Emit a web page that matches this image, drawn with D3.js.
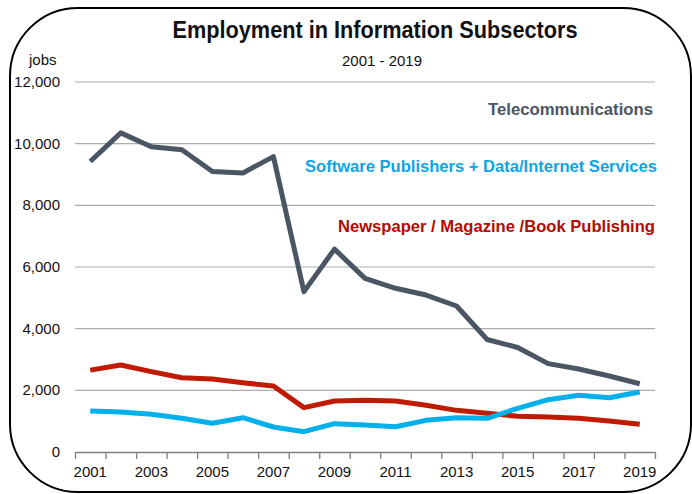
<!DOCTYPE html>
<html><head><meta charset="utf-8">
<script src="https://cdn.jsdelivr.net/npm/d3@7"></script>
<style>html,body{margin:0;padding:0;background:#fff;}svg{display:block;font-family:"Liberation Sans",Arial,sans-serif;}</style>
</head><body>
<svg id="c" width="692" height="494"></svg>
<script>
const years = d3.range(2001, 2020);
const telecom = [9420, 10350, 9900, 9800, 9100, 9050, 9580, 5200, 6580, 5630, 5310, 5090, 4735, 3650, 3390, 2865, 2690, 2465, 2215];
const software = [1330, 1297, 1222, 1092, 930, 1113, 811, 659, 919, 876, 820, 1027, 1113, 1092, 1416, 1697, 1838, 1762, 1946];
const newspaper = [2655, 2820, 2605, 2410, 2368, 2248, 2140, 1438, 1654, 1676, 1654, 1513, 1351, 1254, 1157, 1135, 1092, 1005, 897];
const yTicks = [0, 2000, 4000, 6000, 8000, 10000, 12000];
const xLabels = [2001, 2003, 2005, 2007, 2009, 2011, 2013, 2015, 2017, 2019];
const seriesNames = ["Telecommunications", "Software Publishers + Data/Internet Services", "Newspaper / Magazine /Book Publishing"];

const svg = d3.select("#c");
const L = 75, R = 655, T = 82, B = 452;

// border
svg.append("rect").attr("x", 10).attr("y", 8).attr("width", 681).attr("height", 484)
  .attr("rx", 68).attr("ry", 68).attr("fill", "none").attr("stroke", "#000").attr("stroke-width", 2);

const x = d3.scaleBand().domain(years).range([L, R]).paddingInner(0).paddingOuter(0);
const xb = d3.scaleLinear().domain([0, years.length]).range([L, R]);
const y = d3.scaleLinear().domain([0, 12000]).range([B, T]);

// grid
svg.append("g").selectAll("line").data(yTicks.filter(d => d > 0)).join("line")
  .attr("x1", L).attr("x2", R).attr("y1", d => y(d)).attr("y2", d => y(d))
  .attr("stroke", "#ababab").attr("stroke-width", 1.2);

// y labels
svg.append("g").selectAll("text").data(yTicks).join("text")
  .attr("x", 60).attr("y", d => y(d) + 5).attr("text-anchor", "end")
  .attr("font-size", 15).attr("fill", "#111").text(d3.format(",")).each(function(){
    const t = d3.select(this); t.attr("textLength", t.text().length > 1 ? null : null);
  });

// x axis
const xAxis = d3.axisBottom(xb).tickValues(d3.range(years.length + 1)).tickFormat("").tickSize(7).tickSizeOuter(0);
const gx = svg.append("g").attr("transform", `translate(0,${B})`).call(xAxis);
gx.select(".domain").attr("stroke", "#7f7f7f").attr("stroke-width", 1.3);
gx.selectAll(".tick line").attr("stroke", "#7f7f7f").attr("stroke-width", 1.3);

svg.append("g").selectAll("text").data(xLabels).join("text")
  .attr("x", d => x(d) + x.bandwidth() / 2).attr("y", 477).attr("text-anchor", "middle")
  .attr("font-size", 15).attr("fill", "#111").text(d => d);

// lines
const line = d3.line().x((d, i) => x(years[i]) + x.bandwidth() / 2).y(d => y(d));
const series = [
  {vals: telecom, color: "#4b5563"},
  {vals: software, color: "#00b0ea"},
  {vals: newspaper, color: "#c01a00"}
];
// draw order: newspaper, software, telecom? software crosses newspaper on top
[series[2], series[1], series[0]].forEach(s => {
  svg.append("path").datum(s.vals).attr("d", line).attr("fill", "none")
    .attr("stroke", s.color).attr("stroke-width", 5).attr("stroke-linejoin", "round").attr("stroke-linecap", "butt");
});

// series labels
const labs = [
  {t: seriesNames[0], x: 653, y: 115, c: "#4b5563", w: 165},
  {t: seriesNames[1], x: 657, y: 172, c: "#0aa6e6", w: 352},
  {t: seriesNames[2], x: 655, y: 232, c: "#b40a00", w: 317}
];
labs.forEach(l => {
  svg.append("text").attr("x", l.x).attr("y", l.y).attr("text-anchor", "end")
    .attr("font-size", 17).attr("font-weight", "bold").attr("fill", l.c)
    .attr("textLength", l.w).attr("lengthAdjust", "spacingAndGlyphs").text(l.t);
});

// titles
svg.append("text").attr("x", 375).attr("y", 38).attr("text-anchor", "middle")
  .attr("font-size", 23).attr("font-weight", "bold").attr("fill", "#111")
  .attr("textLength", 405).attr("lengthAdjust", "spacingAndGlyphs")
  .text("Employment in Information Subsectors");
svg.append("text").attr("x", 382).attr("y", 66).attr("text-anchor", "middle")
  .attr("font-size", 15).attr("fill", "#111").attr("textLength", 80).attr("lengthAdjust", "spacingAndGlyphs")
  .text("2001 - 2019");
svg.append("text").attr("x", 29).attr("y", 65)
  .attr("font-size", 15).attr("fill", "#111").text("jobs");
</script>
</body></html>
